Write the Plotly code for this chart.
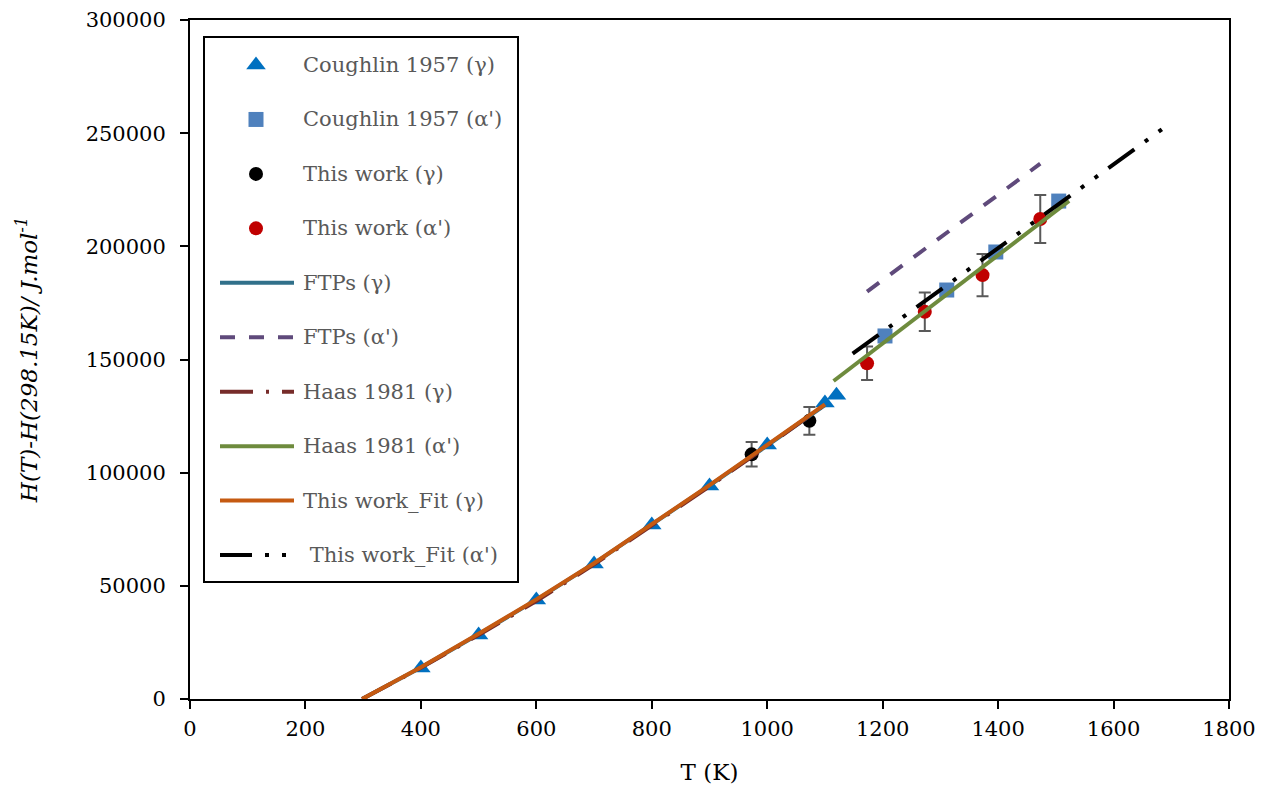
import plotly.graph_objects as go

# ---- data ----
T_cough_g = [400, 500, 600, 700, 800, 900, 1000, 1100, 1120]
H_cough_g = [13700, 28300, 43700, 59600, 76900, 94100, 112200, 130800, 134200]

T_cough_a = [1204, 1311, 1396, 1505]
H_cough_a = [160400, 180700, 197500, 220000]

T_this_g = [973, 1073]
H_this_g = [108100, 122900]
err_this_g = [5400, 6150]

T_this_a = [1173, 1273, 1373, 1473]
H_this_a = [148300, 171100, 187300, 212100]
err_this_a = [7400, 8550, 9350, 10600]

T_ftp_g = [298.15, 400, 500, 600, 700, 800, 900, 1000, 1100]
H_ftp_g = [0, 13900, 28600, 43800, 59900, 77000, 94300, 112000, 129800]

T_ftp_a = [1173, 1473]
H_ftp_a = [180000, 236500]

T_haas_g = [298.15, 400, 500, 600, 700, 800, 900, 1000, 1100, 1112]
H_haas_g = [0, 13800, 28300, 43300, 59500, 76500, 94000, 111800, 130000, 132300]

T_haas_a = [1115, 1200, 1300, 1400, 1500, 1523]
H_haas_a = [140500, 157100, 176600, 196100, 215600, 220100]

T_fit_g = [298.15, 400, 500, 600, 700, 800, 900, 1000, 1100]
H_fit_g = [0, 14000, 28800, 44000, 60000, 77200, 94500, 112300, 130200]

T_fit_a = [1148, 1200, 1300, 1400, 1500, 1600, 1695]
H_fit_a = [152600, 162200, 180700, 199200, 217700, 236200, 253800]

x_ticks = [0, 200, 400, 600, 800, 1000, 1200, 1400, 1600, 1800]
y_ticks = [0, 50000, 100000, 150000, 200000, 250000, 300000]

legend_names = ["Coughlin 1957 (γ)", "Coughlin 1957 (α')", "This work (γ)", "This work (α')",
                "FTPs (γ)", "FTPs (α')", "Haas 1981 (γ)", "Haas 1981 (α')",
                "This work_Fit (γ)", " This work_Fit (α')"]

FONT = "DejaVu Serif"
err_style = dict(type="data", thickness=2, width=6, color="#595959")

# styles per series (same order as legend_names)
marker_styles = [
    dict(symbol="triangle-up", size=17, color="#0070C0"),
    dict(symbol="square", size=15, color="#4F81BD"),
    dict(symbol="circle", size=14, color="black"),
    dict(symbol="circle", size=14, color="#C00000"),
]
line_styles = [
    dict(color="#31708A", width=4),
    dict(color="#5F4A7B", width=4, dash="15px,14px"),
    dict(color="#772C2A", width=4, dash="33px,13px,3px,13px"),
    dict(color="#6E8B3D", width=4),
    dict(color="#C55A11", width=4),
    dict(color="black", width=4, dash="32px,13px,4px,13px,4px,13px"),
]

fig = go.Figure()
marker_data = [(T_cough_g, H_cough_g, None), (T_cough_a, H_cough_a, None),
               (T_this_g, H_this_g, err_this_g), (T_this_a, H_this_a, err_this_a)]
for (xs, ys, err), ms, nm in zip(marker_data, marker_styles, legend_names[:4]):
    fig.add_trace(go.Scatter(x=xs, y=ys, mode="markers", name=nm, showlegend=False,
                             error_y=(dict(array=err, **err_style) if err else None),
                             marker=ms))
line_data = [(T_ftp_g, H_ftp_g), (T_ftp_a, H_ftp_a), (T_haas_g, H_haas_g),
             (T_haas_a, H_haas_a), (T_fit_g, H_fit_g), (T_fit_a, H_fit_a)]
for (xs, ys), ls, nm in zip(line_data, line_styles, legend_names[4:]):
    fig.add_trace(go.Scatter(x=xs, y=ys, mode="lines", name=nm, showlegend=False, line=ls))

# ---- legend drawn on a hidden overlay axis (pixel-like units) ----
row_y = [65 + 54.45 * i for i in range(10)]
for i, ms in enumerate(marker_styles):
    fig.add_trace(go.Scatter(x=[256], y=[row_y[i]], mode="markers", marker=ms,
                             xaxis="x2", yaxis="y2", showlegend=False, hoverinfo="skip"))
for j, ls in enumerate(line_styles):
    fig.add_trace(go.Scatter(x=[220, 294], y=[row_y[4 + j]] * 2, mode="lines", line=ls,
                             xaxis="x2", yaxis="y2", showlegend=False, hoverinfo="skip"))
annotations = []
for i, nm in enumerate(legend_names):
    annotations.append(dict(x=301, y=row_y[i], xref="x2", yref="y2", text=nm,
                            showarrow=False, xanchor="left", yanchor="middle",
                            font=dict(family=FONT, size=21, color="#595959")))
shapes = [dict(type="rect", xref="x2", yref="y2", x0=204, x1=518, y0=37, y1=582,
               line=dict(color="black", width=2), fillcolor="white", layer="below")]

axis_common = dict(showline=True, linecolor="black", linewidth=2, mirror=True,
                   ticks="outside", ticklen=8, tickwidth=2, tickcolor="black",
                   showgrid=False, zeroline=False, automargin=False,
                   tickfont=dict(family=FONT, size=21, color="black"))

fig.update_layout(
    width=1266, height=788,
    margin=dict(l=190, r=37, t=20, b=89, autoexpand=False),
    paper_bgcolor="white", plot_bgcolor="white",
    font=dict(family=FONT, color="black"),
    showlegend=False,
    xaxis=dict(range=[0, 1800], tickvals=x_ticks, ticktext=[str(v) for v in x_ticks],
               ticklabelstandoff=2,
               title=dict(text="T (K)", font=dict(family=FONT, size=23, color="black"), standoff=24),
               **axis_common),
    yaxis=dict(range=[0, 300000], tickvals=y_ticks, ticktext=[str(v) for v in y_ticks],
               ticklabelstandoff=10,
               title=dict(text="<i>H(T)-H(298.15K)/ J.mol<sup>-1</sup></i>",
                          font=dict(family=FONT, size=23, color="black"), standoff=42),
               **axis_common),
    xaxis2=dict(domain=[0, 1], range=[190, 1229], overlaying="x", anchor="y2",
                visible=False, fixedrange=True, automargin=False),
    yaxis2=dict(domain=[0, 1], range=[699, 20], overlaying="y", anchor="x2",
                visible=False, fixedrange=True, automargin=False),
    annotations=annotations,
    shapes=shapes,
)

fig.write_html("out.html", config={"displayModeBar": False},
               post_script="document.body.style.margin='0';")
